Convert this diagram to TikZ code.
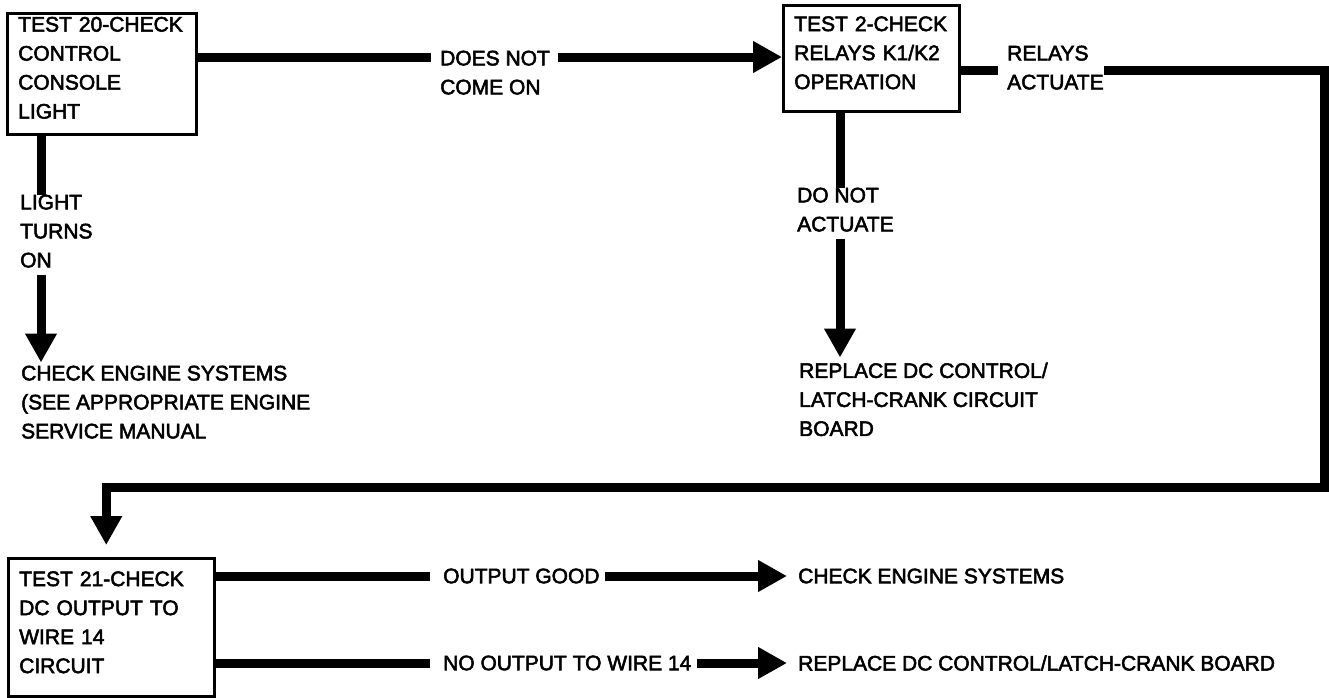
\documentclass[tikz,border=0pt]{standalone}
\usepackage{fontspec}
\setmainfont{Liberation Sans}[FakeBold=2.5]
\usetikzlibrary{arrows.meta}

\begin{document}
\begin{tikzpicture}[x=1pt,y=-1pt,
  every node/.style={font=\fontsize{21}{29}\selectfont},
  testbox/.style={draw,line width=2.5pt,anchor=north west,align=left,inner xsep=11pt},
  lbl/.style={inner sep=0pt,align=left},
  flow/.style={line width=9pt},
  headarrow/.style={-{Triangle[length=29pt,width=30pt]}}]
\useasboundingbox (0,0) rectangle (1329,697);
% test boxes
\node[testbox,text width=167pt,minimum width=189pt,minimum height=121pt] (b1) at (6,12) {TEST 20-CHECK\\CONTROL\\CONSOLE\\LIGHT\\[-17pt]\mbox{}};
\node[testbox,text width=154pt,minimum width=176pt,minimum height=106pt] (b2) at (782,4) {TEST 2-CHECK\\RELAYS K1/K2\\OPERATION\\[-18pt]\mbox{}};
\node[testbox,text width=184pt,minimum width=206pt,minimum height=138pt] (b3) at (7,557) {TEST 21-CHECK\\DC OUTPUT TO\\WIRE 14\\CIRCUIT\\[-19pt]\mbox{}};
% branch labels and results
\node[lbl,anchor=north west] (dnc) at (440,50.5) {DOES NOT\\COME ON};
\node[lbl,anchor=north west] (lto) at (20,194.5) {LIGHT\\TURNS\\ON};
\node[lbl,anchor=north west] (ces1) at (21,365.5) {CHECK ENGINE SYSTEMS\\(SEE APPROPRIATE ENGINE\\SERVICE MANUAL};
\node[lbl,anchor=north west] (ra) at (1007,45.5) {RELAYS\\ACTUATE};
\node[lbl,anchor=north west] (dna) at (797,187.5) {DO NOT\\ACTUATE};
\node[lbl,anchor=north west] (rdc) at (799,362.5) {REPLACE DC CONTROL/\\LATCH-CRANK CIRCUIT\\BOARD};
\node[lbl,anchor=west] (og) at (443,576) {OUTPUT GOOD};
\node[lbl,anchor=west] (ces2) at (798,576) {CHECK ENGINE SYSTEMS};
\node[lbl,anchor=west] (no) at (443,663) {NO OUTPUT TO WIRE 14};
\node[lbl,anchor=west] (rdb) at (798,663) {REPLACE DC CONTROL/LATCH-CRANK BOARD};
\coordinate (lvA) at (0,57);
\coordinate (lvB) at (0,70);
\coordinate (ltx) at (41,0);
\coordinate (dnx) at (840,0);
\coordinate (loopSE) at (1324,487);
% connectors
\draw[flow] (b1.east |- lvA) -- (dnc.west |- lvA) [shorten >=9pt];
\draw[flow,headarrow,shorten <=8pt] (dnc.east |- lvA) -- (b2.west |- lvA);
\draw[flow] (b1.south -| ltx) -- (lto.north -| ltx);
\draw[flow,headarrow,shorten <=7pt,shorten >=3pt] (lto.south -| ltx) -- (ces1.north -| ltx);
\draw[flow,shorten >=9pt] (b2.east |- lvB) -- (ra.west |- lvB);
\draw[flow,headarrow,shorten >=12pt] (ra.east |- lvB) -| (loopSE) -| ([xshift=-5pt]b3.north);
\draw[flow] (b2.south -| dnx) -- (dna.north -| dnx);
\draw[flow,headarrow,shorten <=7pt,shorten >=5pt] (dna.south -| dnx) -- (rdc.north -| dnx);
\draw[flow,shorten >=13pt] (b3.east |- og.west) -- (og.west);
\draw[flow,headarrow,shorten <=5pt,shorten >=11pt] (og.east) -- (ces2.west);
\draw[flow,shorten >=13pt] (b3.east |- no.west) -- (no.west);
\draw[flow,headarrow,shorten <=5pt,shorten >=11pt] (no.east) -- (rdb.west);
\end{tikzpicture}
\end{document}
